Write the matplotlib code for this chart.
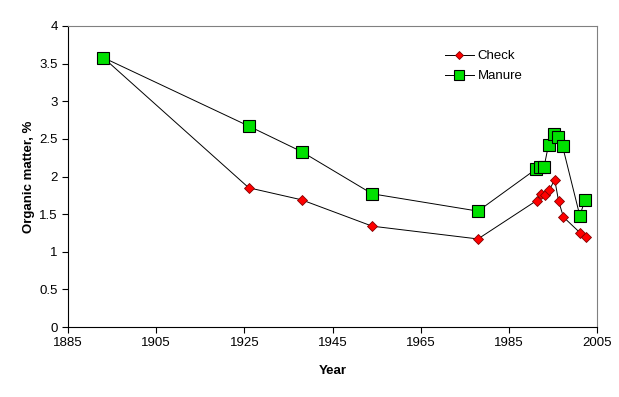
import numpy as np
from matplotlib import pyplot as plt

plt.rcParams['font.family'] = ['Liberation Sans', 'DejaVu Sans']

check_year = [1893, 1926, 1938, 1954, 1978, 1991.3, 1992.2, 1993.3, 1994.2, 1995.4, 1996.3, 1997.4, 2001.2, 2002.4]
check_om = [3.58, 1.85, 1.69, 1.34, 1.17, 1.68, 1.77, 1.75, 1.82, 1.96, 1.67, 1.46, 1.25, 1.20]

manure_year = [1893, 1926, 1938, 1954, 1978, 1991.2, 1992, 1993, 1994, 1995.2, 1996.1, 1997.2, 2001.1, 2002.3]
manure_om = [3.58, 2.67, 2.33, 1.77, 1.54, 2.10, 2.13, 2.13, 2.42, 2.56, 2.52, 2.40, 1.48, 1.69]

xticks = [1885, 1905, 1925, 1945, 1965, 1985, 2005]
yticks = [0, 0.5, 1, 1.5, 2, 2.5, 3, 3.5, 4]

fig = plt.figure(figsize=(6.19, 3.97), dpi=100)
ax = fig.add_axes([68/619, 70/397, 529/619, 301/397])

ax.plot(check_year, check_om, color='black', lw=0.7, marker='D', ms=5.5,
        mfc='#ff0000', mec='#800000', mew=0.6, label='Check', zorder=3)
ax.plot(manure_year, manure_om, color='black', lw=0.7, marker='s', ms=8.5,
        mfc='#00e000', mec='black', mew=0.8, label='Manure', zorder=4)

ax.set_xlim(1885, 2005)
ax.set_ylim(0, 4)
ax.set_xticks(xticks)
ax.set_yticks(yticks)
ax.set_yticklabels(['0', '0.5', '1', '1.5', '2', '2.5', '3', '3.5', '4'])
ax.tick_params(direction='out', length=4, width=0.8, labelsize=9.5, color='black')
ax.spines['top'].set_color('#808080')
ax.spines['right'].set_color('#808080')
ax.set_xlabel('Year', fontsize=9.5, fontweight='bold', labelpad=11)
ax.set_ylabel('Organic matter, %', fontsize=9.5, fontweight='bold', labelpad=3)

ax.legend(loc='upper left', bbox_to_anchor=(0.69, 0.96), frameon=False, fontsize=9.5,
          handlelength=2.2, labelspacing=0.6, handletextpad=0.3, markerscale=0.8)

fig.savefig('out.png', dpi=100)
